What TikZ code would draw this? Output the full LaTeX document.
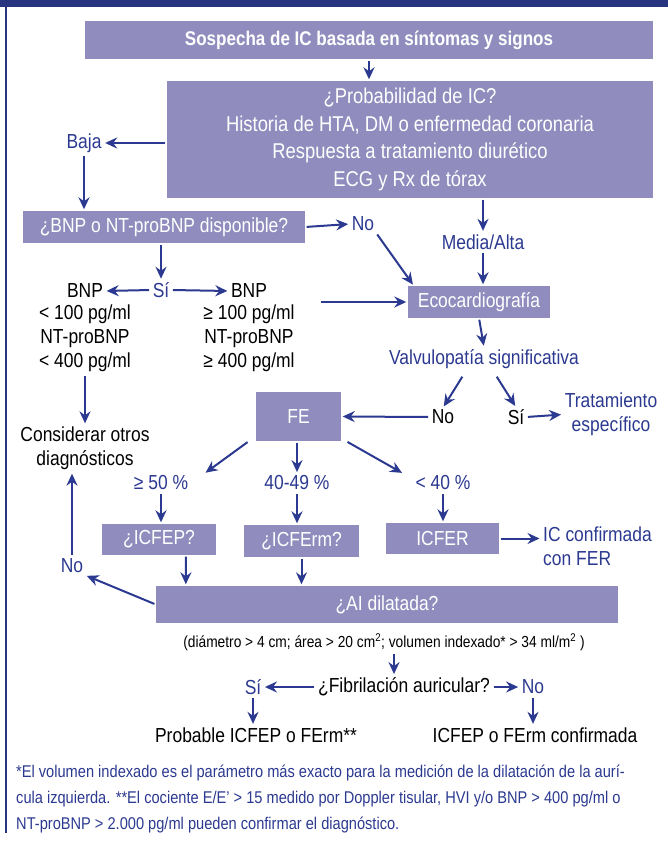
\documentclass[tikz,border=0pt]{standalone}
\usepackage{fontspec}
\setmainfont{Liberation Sans}[FakeStretch=0.86]
\usetikzlibrary{arrows.meta}
\definecolor{azul}{HTML}{2B3990}
\definecolor{lila}{HTML}{908DBE}
\definecolor{cabecera}{HTML}{273580}
\newcommand{\caja}[4] {\node at (#1) (#2) [caja, #3] {#4};}
\newcommand{\flecha}[2] {\draw [flecha] (#1) -- (#2);}
\tikzset{
  caja/.style={fill=lila, text=white, inner sep=0pt, align=center, font=\fontsize{20.3}{27}\selectfont},
  etiq/.style={text=azul, inner sep=2pt, align=center, font=\fontsize{20.3}{24}\selectfont},
  texto/.style={text=black, inner sep=2pt, align=center, font=\fontsize{20.3}{24}\selectfont},
  flecha/.style={->, draw=azul, line width=2pt, shorten <=1.5pt, shorten >=1.5pt},
}

\begin{document}
\begin{tikzpicture}[x=1pt, y=-1pt, >={Stealth[length=12pt, width=11pt, inset=4pt]}]
\useasboundingbox (0,0) rectangle (668,842);
\fill [cabecera] (0,0) rectangle (668,7);
\draw [cabecera, line width=2pt] (6,7) -- (6,833);

\caja {369,40}{sospecha}{minimum width=568pt, minimum height=38pt, font=\bfseries\fontsize{19.8}{22}\selectfont}{Sospecha de IC basada en síntomas y signos};
\caja {410,139.5}{probabilidad}{minimum width=486pt, minimum height=117pt, font=\fontsize{21.4}{27.5}\selectfont}{¿Probabilidad de IC?\\Historia de HTA, DM o enfermedad coronaria\\Respuesta a tratamiento diurético\\ECG y Rx de tórax};
\caja {164,227}{disponible}{minimum width=282pt, minimum height=32pt}{¿BNP o NT-proBNP disponible?};
\caja {479,302}{eco}{minimum width=142pt, minimum height=32pt}{Ecocardiografía};
\caja {298.5,416.5}{fe}{minimum width=85pt, minimum height=49pt}{FE};
\caja {159,539.5}{icfep}{minimum width=114pt, minimum height=31pt}{¿ICFEP?};
\caja {301.5,541}{icferm}{minimum width=115pt, minimum height=32pt}{¿ICFErm?};
\caja {442.5,538.5}{icfer}{minimum width=113pt, minimum height=31pt}{ICFER};
\caja {387,604.5}{dilatada}{minimum width=462pt, minimum height=37pt}{¿AI dilatada?};

\node at (84,143) (baja) [etiq] {Baja};
\node at (363,224) (no1) [etiq] {No};
\node at (483,242) (media) [etiq] {Media/Alta};
\node at (161,290) (si1) [etiq] {Sí};
\node at (85,291) (bnpbajo) [texto] {BNP};
\node at (85,338.5) (valbajo) [texto] {< 100 pg/ml\\NT-proBNP\\< 400 pg/ml};
\node at (249,291) (bnpalto) [texto] {BNP};
\node at (249,338.5) (valalto) [texto] {≥ 100 pg/ml\\NT-proBNP\\≥ 400 pg/ml};
\node at (484,359) (valvulo) [etiq] {Valvulopatía significativa};
\node at (443,417) (no2) [texto] {No};
\node at (516,417) (si2) [texto] {Sí};
\node at (611,414.5) (tratamiento) [etiq] {Tratamiento\\específico};
\node at (85,448.5) (otros) [texto] {Considerar otros\\diagnósticos};
\node at (161,483) (fe50) [etiq] {≥ 50 \%};
\node at (297,483) (fe40) [etiq] {40-49 \%};
\node at (443,483) (fe39) [etiq] {< 40 \%};
\node at (541,546.5) (confirmada) [etiq, anchor=west, align=left] {IC confirmada\\con FER};
\node at (72,566) (no3) [etiq] {No};
\node at (384,642) (criterios) [texto, font=\fontsize{16}{18}\selectfont] {(diámetro > 4 cm; área > 20 cm\textsuperscript{2}; volumen indexado* > 34 ml/m\textsuperscript{2} )};
\node at (404,687) (fibrilacion) [texto] {¿Fibrilación auricular?};
\node at (253,687) (si3) [etiq] {Sí};
\node at (533,687) (no4) [etiq] {No};
\node at (256,735) (probable) [texto] {Probable ICFEP o FErm**};
\node at (535,735) (icfepconf) [texto] {ICFEP o FErm confirmada};
\node at (16,765) (pie) [anchor=north west, text=azul, align=left, inner sep=0pt, font=\fontsize{17}{26}\selectfont] {*El volumen indexado es el parámetro más exacto para la medición de la dilatación de la aurí-\\cula izquierda. **El cociente E/E’ > 15 medido por Doppler tisular, HVI y/o BNP > 400 pg/ml o\\NT-proBNP > 2.000 pg/ml pueden confirmar el diagnóstico.};

\flecha{sospecha.south}{sospecha.south |- probabilidad.north};
\flecha{probabilidad.west |- baja.east}{baja.east};
\flecha{baja.south}{baja.south |- disponible.north};
\flecha{disponible.east}{no1.west};
\flecha{no1.south east}{[xshift=6pt]eco.north west};
\flecha{media.north |- probabilidad.south}{media.north};
\flecha{media.south}{media.south |- eco.north};
\flecha{si1.north |- disponible.south}{si1.north};
\flecha{si1.west}{bnpbajo.east};
\flecha{si1.east}{bnpalto.west};
\draw [flecha, shorten <=24pt] (valalto.east |- eco.west) -- (eco.west);
\flecha{eco.south}{valvulo.north};
\draw [flecha, shorten <=7pt] ([xshift=-18pt]valvulo.south) -- (no2.north);
\draw [flecha, shorten <=7pt] ([xshift=9pt]valvulo.south) -- (si2.north);
\flecha{no2.west}{fe.east};
\flecha{si2.east}{tratamiento.west};
\flecha{valbajo.south}{otros.north};
\flecha{[xshift=-7pt]fe.south west}{[xshift=14pt]fe50.north east};
\flecha{fe40.north |- fe.south}{fe40.north};
\flecha{[xshift=5pt]fe.south east}{[xshift=-10pt]fe39.north west};
\flecha{fe50.south}{fe50.south |- icfep.north};
\flecha{fe40.south}{fe40.south |- icferm.north};
\flecha{fe39.south}{fe39.south |- icfer.north};
\flecha{icfer.east}{icfer.east -| confirmada.west};
\flecha{[xshift=27pt]icfep.south}{[xshift=30pt]dilatada.north west};
\flecha{icferm.south}{icferm.south |- dilatada.north};
\flecha{dilatada.west}{no3.south east};
\flecha{no3.north}{no3.north |- otros.south};
\flecha{[xshift=10pt]criterios.south}{[xshift=-10pt]fibrilacion.north};
\flecha{fibrilacion.west}{si3.east};
\flecha{fibrilacion.east}{no4.west};
\flecha{si3.south}{si3.south |- probable.north};
\flecha{no4.south}{no4.south |- icfepconf.north};

\end{tikzpicture}
\end{document}
